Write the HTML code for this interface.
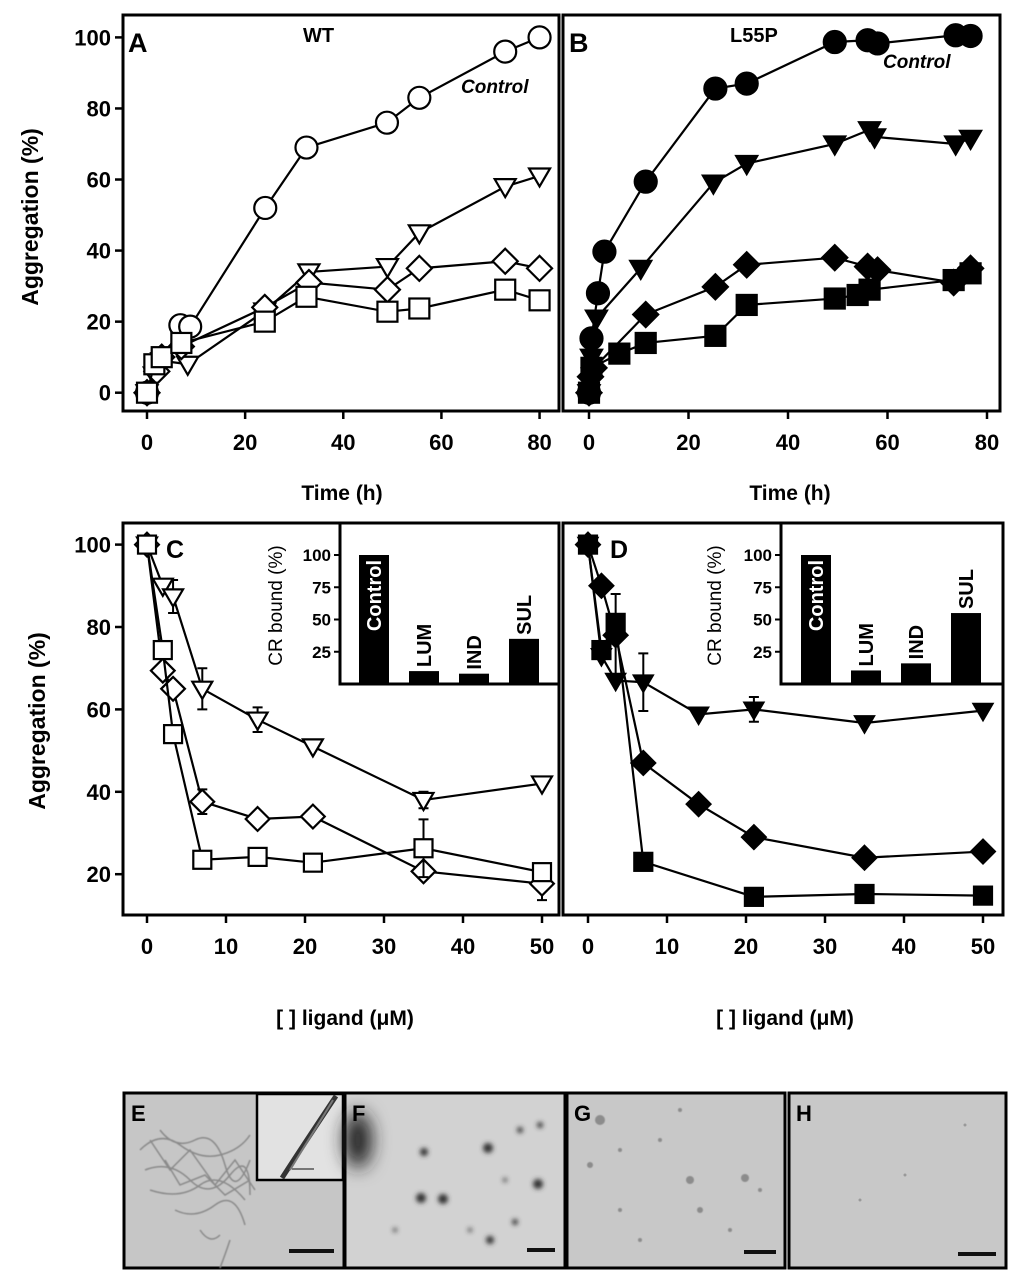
<!DOCTYPE html>
<html><head><meta charset="utf-8"><style>
html,body{margin:0;padding:0;background:#fff;}
svg{display:block;font-family:"Liberation Sans",Arial,sans-serif;}
</style></head><body>
<svg id="fig" width="1024" height="1285" viewBox="0 0 1024 1285" xmlns="http://www.w3.org/2000/svg">
<defs>
<filter id="blur2" x="-50%" y="-50%" width="200%" height="200%"><feGaussianBlur stdDeviation="2.5"/></filter>
<filter id="blur8" x="-80%" y="-80%" width="260%" height="260%"><feGaussianBlur stdDeviation="9"/></filter>
<filter id="blur1"><feGaussianBlur stdDeviation="0.6"/></filter>
</defs>
<g id="plots"></g>
<g font-weight="bold" fill="#000">
<text x="128" y="52" font-size="27">A</text>
<text x="303" y="42" font-size="20">WT</text>
<text x="461" y="93" font-size="19" font-style="italic">Control</text>
<text x="569" y="52" font-size="27">B</text>
<text x="730" y="42" font-size="20">L55P</text>
<text x="883" y="68" font-size="19" font-style="italic">Control</text>
<text x="166" y="558" font-size="25">C</text>
<text x="610" y="558" font-size="25">D</text>
<text transform="translate(38,217) rotate(-90)" text-anchor="middle" font-size="23">Aggregation (%)</text>
<text transform="translate(45,721) rotate(-90)" text-anchor="middle" font-size="23">Aggregation (%)</text>
<text x="342" y="500" text-anchor="middle" font-size="21">Time (h)</text>
<text x="790" y="500" text-anchor="middle" font-size="21">Time (h)</text>
<text x="345" y="1025" text-anchor="middle" font-size="21">[ ] ligand (μM)</text>
<text x="785" y="1025" text-anchor="middle" font-size="21">[ ] ligand (μM)</text>
</g>
<g>
<g>
<rect x="124" y="1093" width="220" height="175" fill="#c6c6c6" stroke="#000" stroke-width="3"/>
<g filter="url(#blur1)" stroke="#8a8a8a" stroke-width="1.5" fill="none">
<path d="M140 1150 q20 -20 40 -5 t40 10 t30 -20 M145 1170 q25 -10 45 10 t40 -5 t20 20 M150 1190 q30 10 50 -5 t45 15 M160 1130 q15 20 35 10 t30 25 t25 -5 M175 1210 q20 10 40 -5 t30 20 M200 1230 q10 15 20 5 M230 1240 q-5 15 -10 28"/>
<path d="M150 1140 l20 30 l20 -20 l25 35 l20 -25 l20 30 M165 1160 l15 25 l25 -10 l20 20 l25 -15"/>
</g>
<rect x="257" y="1094" width="86" height="86" fill="#e2e2e2" stroke="#000" stroke-width="2.5"/>
<path d="M336 1096 C320 1120 300 1150 282 1178" stroke="#333" stroke-width="5" fill="none"/>
<path d="M333 1100 C318 1125 305 1145 290 1170" stroke="#777" stroke-width="2" fill="none"/>
<rect x="292" y="1168" width="22" height="2" fill="#777"/>
<text x="131" y="1121" font-size="22" font-weight="bold">E</text>
<rect x="289" y="1249" width="45" height="4" fill="#111"/>
</g>
<g>
<rect x="345" y="1093" width="220" height="175" fill="#d2d2d2" stroke="#000" stroke-width="3"/>
<g filter="url(#blur8)" fill="#222">
<ellipse cx="358" cy="1140" rx="14" ry="28"/>
</g>
<g filter="url(#blur2)" fill="#333">
<circle cx="421" cy="1198" r="5"/><circle cx="443" cy="1199" r="5"/><circle cx="424" cy="1152" r="4"/>
<circle cx="488" cy="1148" r="5"/><circle cx="538" cy="1184" r="5"/><circle cx="490" cy="1240" r="4"/>
<circle cx="520" cy="1130" r="3"/><circle cx="540" cy="1125" r="3"/><circle cx="515" cy="1222" r="3"/>
<circle cx="505" cy="1180" r="2"/><circle cx="470" cy="1230" r="2"/><circle cx="395" cy="1230" r="2"/>
</g>
<text x="352" y="1121" font-size="22" font-weight="bold">F</text>
<rect x="527" y="1248" width="28" height="4" fill="#111"/>
</g>
<g>
<rect x="567" y="1093" width="218" height="175" fill="#c8c8c8" stroke="#000" stroke-width="3"/>
<g fill="#8c8c8c" filter="url(#blur1)">
<circle cx="590" cy="1165" r="3"/><circle cx="690" cy="1180" r="4"/><circle cx="745" cy="1178" r="4"/>
<circle cx="620" cy="1150" r="2"/><circle cx="660" cy="1140" r="2"/><circle cx="700" cy="1210" r="3"/>
<circle cx="640" cy="1240" r="2"/><circle cx="620" cy="1210" r="2"/><circle cx="760" cy="1190" r="2"/>
<circle cx="600" cy="1120" r="5"/><circle cx="730" cy="1230" r="2"/><circle cx="680" cy="1110" r="2"/>
</g>
<text x="574" y="1121" font-size="22" font-weight="bold">G</text>
<rect x="744" y="1250" width="32" height="4" fill="#111"/>
</g>
<g>
<rect x="789" y="1093" width="217" height="175" fill="#c8c8c8" stroke="#000" stroke-width="3"/>
<g fill="#999"><circle cx="860" cy="1200" r="1.5"/><circle cx="965" cy="1125" r="1.5"/><circle cx="905" cy="1175" r="1.5"/></g>
<text x="796" y="1121" font-size="22" font-weight="bold">H</text>
<rect x="958" y="1252" width="38" height="4" fill="#111"/>
</g>
</g>
</svg>
<script>
const timeTicks = [0, 20, 40, 60, 80];
const aggTicksTop = [0, 20, 40, 60, 80, 100];
const aControlX = [0, 6.8, 8.8, 24.1, 32.5, 48.9, 55.5, 73, 80];
const aControlY = [0, 19, 18.6, 52, 69, 76, 83, 96, 100];
const aTriX = [0, 1.5, 3, 8.3, 24, 33, 49, 55.5, 73, 80];
const aTriY = [0, 5, 9, 8, 23, 34, 35.5, 45, 58, 61];
const aDiaX = [0, 2, 3, 7, 24, 33, 49, 55.5, 73, 80];
const aDiaY = [0, 6, 10, 13, 24, 31, 29, 35, 37, 35];
const aSqX = [0, 1.5, 3, 7, 24, 32.5, 49, 55.5, 73, 80];
const aSqY = [0, 8, 10, 14, 20, 27, 22.8, 23.7, 29, 26];
const bControlX = [0, 0.5, 1.8, 3.1, 11.4, 25.4, 31.7, 49.4, 56, 58, 73.7, 76.7];
const bControlY = [0, 15.3, 28, 39.7, 59.4, 85.6, 87, 98.7, 99.2, 98.3, 100.6, 100.4];
const bTriX = [0, 0.5, 1.5, 10.4, 25, 31.7, 49.4, 56.4, 57.4, 73.7, 76.7];
const bTriY = [0, 10, 21, 35, 59, 64.5, 70, 74, 72, 70, 71.6];
const bDiaX = [0, 0.3, 1, 11.4, 25.4, 31.7, 49.4, 56, 58, 73.3, 76.7];
const bDiaY = [0, 4.5, 7, 22, 29.8, 36, 38, 35.5, 34.5, 31, 35];
const bSqX = [0, 0.5, 6.1, 11.4, 25.4, 31.7, 49.4, 54, 56.4, 73.3, 76.7];
const bSqY = [0, 7, 11, 14, 16, 24.7, 26.5, 27.5, 29, 31.7, 33.6];
const doseTicks = [0, 10, 20, 30, 40, 50];
const aggTicksBottom = [20, 40, 60, 80, 100];
const cDose = [0, 2, 3.3, 7, 14, 21, 35, 50];
const cTriY = [100, 90, 87.4, 65, 57.5, 51, 38, 42];
const cTriErr = [0, 0, 4, 5, 3, 0, 2, 0];
const cDiaY = [100, 69.4, 65, 37.6, 33.4, 34, 20.7, 17.7];
const cDiaErr = [0, 0, 0, 3, 0, 0, 0, 4];
const cSqY = [100, 74.4, 54, 23.5, 24.2, 22.8, 26.3, 20.5];
const cSqErr = [0, 0, 0, 0, 0, 2, 7, 2];
const dDose = [0, 1.7, 3.5, 7, 14, 21, 35, 50];
const dTriY = [100, 73, 67, 66.6, 58.8, 60, 56.7, 59.7];
const dTriErr = [0, 0, 0, 7, 0, 3, 0, 0];
const dDiaY = [100, 90, 78, 47, 37, 29, 24, 25.5];
const dDiaErr = [0, 0, 10, 0, 0, 0, 0, 0];
const dSqDose = [0, 1.7, 3.5, 7, 21, 35, 50];
const dSqY = [100, 74.4, 81, 23, 14.5, 15.2, 14.8];
const insetCats = ["Control", "LUM", "IND", "SUL"];
const insetCVals = [100, 10, 8, 35];
const insetDVals = [100, 10.5, 16, 55];
const insetTicks = [25, 50, 75, 100];

const NS = "http://www.w3.org/2000/svg";
const root = document.getElementById("plots");
function mk(tag, attrs, parent) {
  const e = document.createElementNS(NS, tag);
  for (const k in attrs) e.setAttribute(k, attrs[k]);
  (parent || root).appendChild(e);
  return e;
}
function grp(name) {
  const g = mk("g", {});
  
  
  return g;
}
function marker(g, shape, cx, cy, s, filled, name) {
  const fill = filled ? "#000" : "#fff";
  let e;
  if (shape === "circle") e = mk("circle", {cx: cx, cy: cy, r: s, fill: fill, stroke: "#000", "stroke-width": 2.2}, g);
  else if (shape === "square") e = mk("rect", {x: cx - s, y: cy - s, width: 2 * s, height: 2 * s, fill: fill, stroke: "#000", "stroke-width": 2.2}, g);
  else if (shape === "diamond") { const d = s * 1.25; e = mk("polygon", {points: `${cx},${cy - d} ${cx + d},${cy} ${cx},${cy + d} ${cx - d},${cy}`, fill: fill, stroke: "#000", "stroke-width": 2.2}, g); }
  else { e = mk("polygon", {points: `${cx - s * 1.05},${cy - s * 0.75} ${cx + s * 1.05},${cy - s * 0.75} ${cx},${cy + s * 1.05}`, fill: fill, stroke: "#000", "stroke-width": 2.2}, g); }
  
  
}
function series(name, xs, ys, errs, sx, sy, shape, size, filled) {
  const g = grp(name);
  if (errs) {
    xs.forEach((x, i) => {
      if (!errs[i]) return;
      const px = sx(x), t = sy(ys[i] + errs[i]), b = sy(ys[i] - errs[i]);
      const eb = mk("path", {d: `M${px},${t} V${b} M${px - 5},${t} H${px + 5} M${px - 5},${b} H${px + 5}`, stroke: "#000", "stroke-width": 2, fill: "none"}, g);
      
      
    });
  }
  const pts = xs.map((x, i) => sx(x) + "," + sy(ys[i])).join(" ");
  const ln = mk("polyline", {points: pts, fill: "none", stroke: "#000", "stroke-width": 2.2}, g);
  
  
  xs.forEach((x, i) => marker(g, shape, sx(x), sy(ys[i]), size, filled, name + '-point'));
}
function axes(name, box, xt, yt, sx, sy, showY) {
  const g = grp(name);
  const r = mk("rect", {x: box[0], y: box[1], width: box[2] - box[0], height: box[3] - box[1], fill: "none", stroke: "#000", "stroke-width": 3}, g);
  
  
  xt.forEach(v => {
    const t = mk("line", {x1: sx(v), x2: sx(v), y1: box[3], y2: box[3] + 8, stroke: "#000", "stroke-width": 2.5}, g);
    
    
    const l = mk("text", {x: sx(v), y: box[3] + 39, "text-anchor": "middle", "font-size": 22, "font-weight": "bold"}, g);
    l.textContent = v;
    
    
  });
  if (showY) yt.forEach(v => {
    const t = mk("line", {x1: box[0] - 8, x2: box[0], y1: sy(v), y2: sy(v), stroke: "#000", "stroke-width": 2.5}, g);
    
    
    const l = mk("text", {x: box[0] - 12, y: sy(v) + 8, "text-anchor": "end", "font-size": 22, "font-weight": "bold"}, g);
    l.textContent = v;
    
    
  });
}
const xA = v => 147 + v * 4.907, yTop = v => 392.7 - v * 3.553;
const xB = v => 589 + v * 4.975;
const xC = v => 147 + v * 7.9, yBot = v => 544.6 + (100 - v) * 4.12;
const xD = v => 588 + v * 7.9;

axes("panel-a-axes", [123, 15, 559, 411], timeTicks, aggTicksTop, xA, yTop, true);
axes("panel-b-axes", [563, 15, 1000, 411], timeTicks, aggTicksTop, xB, yTop, false);
axes("panel-c-axes", [123, 523, 559, 915], doseTicks, aggTicksBottom, xC, yBot, true);
axes("panel-d-axes", [563, 523, 1003, 915], doseTicks, aggTicksBottom, xD, yBot, false);

series("a-control", aControlX, aControlY, null, xA, yTop, "circle", 11, false);
series("a-triangle", aTriX, aTriY, null, xA, yTop, "tri", 10, false);
series("a-diamond", aDiaX, aDiaY, null, xA, yTop, "diamond", 10, false);
series("a-square", aSqX, aSqY, null, xA, yTop, "square", 10, false);
series("b-control", bControlX, bControlY, null, xB, yTop, "circle", 11, true);
series("b-triangle", bTriX, bTriY, null, xB, yTop, "tri", 10, true);
series("b-diamond", bDiaX, bDiaY, null, xB, yTop, "diamond", 10, true);
series("b-square", bSqX, bSqY, null, xB, yTop, "square", 10, true);
series("c-triangle", cDose, cTriY, cTriErr, xC, yBot, "tri", 9.5, false);
series("c-diamond", cDose, cDiaY, cDiaErr, xC, yBot, "diamond", 9.5, false);
series("c-square", cDose, cSqY, cSqErr, xC, yBot, "square", 9, false);
series("d-triangle", dDose, dTriY, dTriErr, xD, yBot, "tri", 9, true);
series("d-diamond", dDose, dDiaY, dDiaErr, xD, yBot, "diamond", 9.5, true);
series("d-square", dSqDose, dSqY, null, xD, yBot, "square", 9, true);

function inset(name, x0, x1, vals, barX0, titleX) {
  const g = grp(name);
  const top = 523, bot = 684;
  const sy = v => bot - v * 1.29;
  const bg = mk("rect", {x: x0, y: top, width: x1 - x0, height: bot - top, fill: "#fff", stroke: "#000", "stroke-width": 3}, g);
  
  
  insetTicks.forEach(v => {
    const t = mk("line", {x1: x0 - 6, x2: x0, y1: sy(v), y2: sy(v), stroke: "#000", "stroke-width": 2}, g);
    
    
    const l = mk("text", {x: x0 - 9, y: sy(v) + 6, "text-anchor": "end", "font-size": 17, "font-weight": "bold"}, g);
    l.textContent = v;
    
    
  });
  const tt = mk("text", {transform: `translate(${titleX},${(top + bot) / 2 + 2}) rotate(-90)`, "text-anchor": "middle", "font-size": 19}, g);
  tt.textContent = "CR bound (%)";
  
  
  vals.forEach((v, i) => {
    const bx = barX0 + i * 50, w = 30;
    const b = mk("rect", {x: bx, y: sy(v), width: w, height: bot - sy(v), fill: "#000"}, g);
    
    
    const inside = i === 0;
    const ly = inside ? sy(v) + 5 : sy(v) - 4;
    const l = mk("text", {transform: `translate(${bx + w / 2 + 7},${ly}) rotate(-90)`, "text-anchor": inside ? "end" : "start", "font-size": 20, "font-weight": "bold", fill: inside ? "#fff" : "#000"}, g);
    l.textContent = insetCats[i];
    
    
  });
}
inset("inset-c", 340, 559, insetCVals, 359, 282);
inset("inset-d", 781, 1003, insetDVals, 801, 721);
</script>
</body></html>
